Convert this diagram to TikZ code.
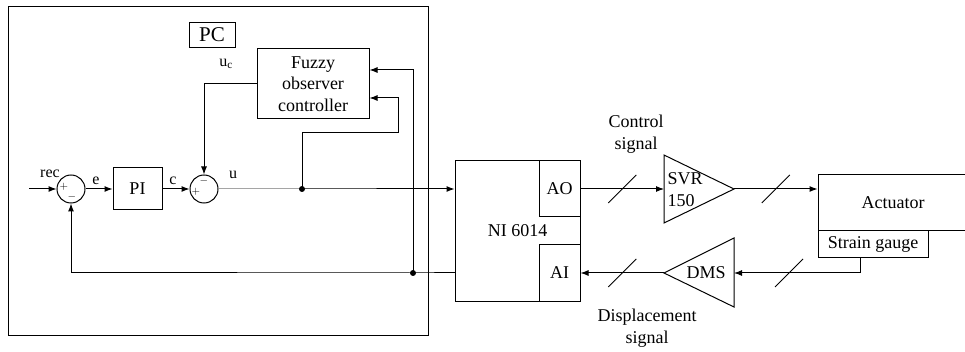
\documentclass[tikz,border=0pt]{standalone}
\usepackage{fontspec}
\setmainfont{Liberation Serif}
\usetikzlibrary{arrows.meta,calc}

\begin{document}
\begin{tikzpicture}[x=1pt, y=-1pt, >={Latex[length=8pt,width=6pt]}, line width=1pt,
  font=\fontsize{18}{21.5}\selectfont,
  block/.style={draw, rectangle, inner sep=0pt, align=center},
  summ/.style={draw, circle, minimum size=28pt, inner sep=0pt},
  dot/.style={circle, fill, inner sep=0pt, minimum size=6pt},
  lbl/.style={font=\fontsize{16}{18}\selectfont, inner sep=0pt},
  sgn/.style={font=\fontsize{11}{11}\selectfont, inner sep=0pt}]
  \useasboundingbox (0,0) rectangle (965,352);

  % PC side
  \draw (8,7) rectangle (428,335);
  \node[block, minimum width=46pt, minimum height=25pt, font=\fontsize{21}{24}\selectfont] (pc) at (212,35) {PC};
  \node[block, minimum width=112pt, minimum height=70pt] (fuzzy) at (313,84) {Fuzzy\\observer\\controller};

  \coordinate (in) at (29,189);
  \node[summ] (s1) at (71,189) {};
  \node[block, minimum width=49pt, minimum height=42pt] (pi) at (137.5,189) {PI};
  \node[summ] (s2) at (204,189) {};
  \node[dot] (d1) at (302,189) {};
  \node[dot] (d2) at (413,273) {};
  \coordinate (fin1) at ($(fuzzy.east)+(0,14)$);
  \coordinate (fin2) at ($(fuzzy.east)+(0,-14)$);

  \node[sgn] at (64,187) {$+$};
  \node[sgn] at (72,197) {$-$};
  \node[sgn] at (196,192) {$+$};
  \node[sgn] at (204,181) {$-$};

  % card
  \node[block, minimum width=125pt, minimum height=140pt] (ni) at (517.5,231) {NI 6014};
  \node[block, minimum width=41pt, minimum height=56pt] (ao) at (559.5,189) {AO};
  \node[block, minimum width=41pt, minimum height=56pt] (ai) at (559.5,273) {AI};

  % amplifiers
  \coordinate (svrin) at (664,189);
  \coordinate (svrout) at (734,189);
  \draw (664,155) -- (svrout) -- (664,223) -- cycle;
  \node[anchor=west, align=left, inner sep=0pt] (svr) at (667,189.5) {SVR\\150};
  \coordinate (dmsin) at (734,273);
  \coordinate (dmsout) at (664,273);
  \draw (734,238) -- (dmsout) -- (734,307) -- cycle;
  \node (dms) at (706,273) {DMS};

  \node[block, minimum width=150pt, minimum height=56pt] (act) at (893,203) {Actuator};
  \node[block, minimum width=110pt, minimum height=27pt] (sg) at (873,244.5) {Strain gauge};
  \coordinate (sgout) at ($(sg.south)+(-13,0)$);

  % signals
  \draw[->] (in) -- (s1);
  \draw[->] (s1) -- (pi);
  \draw[->] (pi) -- (s2);
  \draw[->] (s2) -- (d1.center) -- (ni.west |- d1);
  \draw[->] (d1.center) -- ++(0,-56) -| ($(fin1)+(29,0)$) -- (fin1);
  \draw[->] (d2.center) |- (fin2);
  \draw[->] (fuzzy.west) -| (s2);
  \draw[->] (ni.west |- ai) -- (d2.center) -| (s1);

  \draw[->] (ao.east) -- (svrin);
  \draw[->] (svrout) -- (act.west |- svrout);
  \draw[->] (sgout) |- (dmsin);
  \draw[->] (dmsout) -- (ai.east);

  \draw ($(ao.east)!0.5!(svrin)$) ++(-14,14) -- ++(28,-28);
  \draw ($(svrout)!0.5!(act.west |- svrout)$) ++(-14,14) -- ++(28,-28);
  \draw ($(ai.east)!0.5!(dmsout)$) ++(-14,14) -- ++(28,-28);
  \draw (789,273) ++(-14,14) -- ++(28,-28);

  \node[lbl] at (50,174) {rec};
  \node[lbl] at (96,181) {e};
  \node[lbl] at (173,181) {c};
  \node[lbl] at (233,175) {u};
  \node[lbl] at (226,64) {u\textsubscript{c}};
  \node[align=center, inner sep=0pt] at (636,134) {Control\\signal};
  \node[align=center, inner sep=0pt] at (647,328) {Displacement\\signal};
\end{tikzpicture}
\end{document}
